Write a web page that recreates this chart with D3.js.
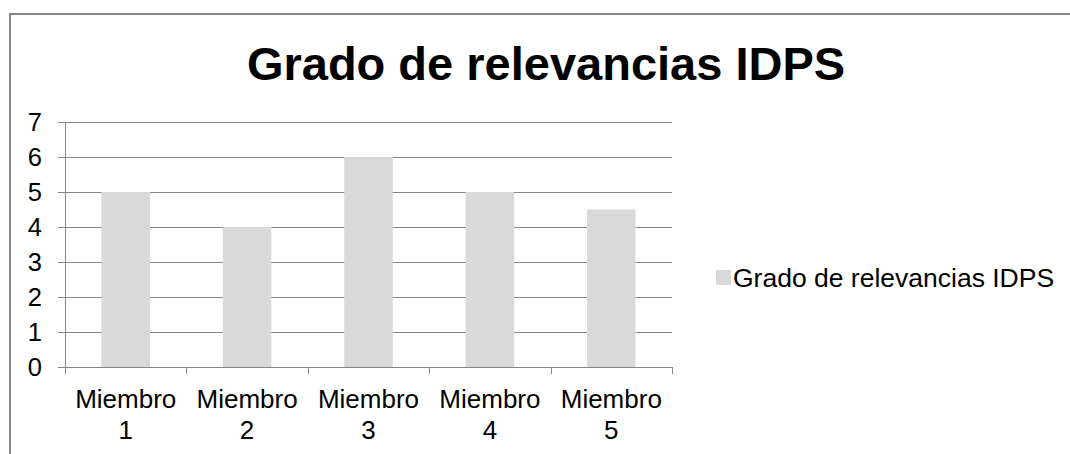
<!DOCTYPE html>
<html lang="es">
<head>
    <meta charset="UTF-8">
    <script src="https://cdn.jsdelivr.net/npm/d3@7"></script>
    <title>Grado de relevancias IDPS</title>
    <style>
        body { margin: 0; background: #fff; }
        text { font-family: Arial, "Liberation Sans", sans-serif; fill: #000; }
    </style>
</head>
<body>
</body>
<script>

    // datos
    let categories = [["Miembro", "1"], ["Miembro", "2"], ["Miembro", "3"], ["Miembro", "4"], ["Miembro", "5"]];
    let values = [5, 4, 6, 5, 4.5];
    let yTicks = [0, 1, 2, 3, 4, 5, 6, 7];
    let seriesName = "Grado de relevancias IDPS";
    let title = "Grado de relevancias IDPS";

    let width = 1070, height = 454;
    let plotLeft = 65, plotRight = 672, plotTop = 122, plotBottom = 367;
    let barColor = "#d9d9d9", lineColor = "#868686";

    let svg = d3.select("body")
        .append("svg")
        .attr("width", width)
        .attr("height", height);

    // marco del grafico
    svg.append("rect")
        .attr("x", 10)
        .attr("y", 14)
        .attr("width", 1200)
        .attr("height", 600)
        .attr("fill", "none")
        .attr("stroke", lineColor)
        .attr("stroke-width", 2);

    let x = d3.scaleBand()
        .domain(d3.range(values.length))
        .range([plotLeft, plotRight])
        .paddingInner(0.6)
        .paddingOuter(0.3);

    let y = d3.scaleLinear()
        .domain([0, 7])
        .range([plotBottom, plotTop]);

    // lineas de cuadricula
    svg.append("g")
        .selectAll("line")
        .data(yTicks)
        .join("line")
        .attr("x1", plotLeft - 7)
        .attr("x2", plotRight)
        .attr("y1", d => Math.round(y(d)) + 0.5)
        .attr("y2", d => Math.round(y(d)) + 0.5)
        .attr("stroke", lineColor)
        .attr("stroke-width", 1);

    // barras
    svg.append("g")
        .selectAll("rect")
        .data(values)
        .join("rect")
        .attr("x", (d, i) => x(i))
        .attr("width", x.bandwidth())
        .attr("y", d => y(d))
        .attr("height", d => y(0) - y(d))
        .attr("fill", barColor);

    // eje y
    svg.append("line")
        .attr("x1", plotLeft + 0.5)
        .attr("x2", plotLeft + 0.5)
        .attr("y1", Math.round(y(7)))
        .attr("y2", plotBottom + 7)
        .attr("stroke", lineColor);

    // marcas del eje x en los limites de categoria
    let bounds = d3.range(values.length + 1).map(i => plotLeft + i * x.step());
    svg.append("g")
        .selectAll("line")
        .data(bounds)
        .join("line")
        .attr("x1", d => Math.round(d) + 0.5)
        .attr("x2", d => Math.round(d) + 0.5)
        .attr("y1", Math.round(y(0)))
        .attr("y2", Math.round(y(0)) + 7)
        .attr("stroke", lineColor);

    // etiquetas del eje y
    svg.append("g")
        .selectAll("text")
        .data(yTicks)
        .join("text")
        .attr("x", 42)
        .attr("y", d => y(d))
        .attr("dy", "0.36em")
        .attr("text-anchor", "end")
        .style("font-size", "25.5px")
        .text(d => d);

    // etiquetas de categoria
    let cat = svg.append("g")
        .selectAll("text")
        .data(categories)
        .join("text")
        .attr("text-anchor", "middle")
        .style("font-size", "26px");
    cat.each(function (d, i) {
        d3.select(this).selectAll("tspan")
            .data(d)
            .join("tspan")
            .attr("x", x(i) + x.bandwidth() / 2)
            .attr("y", (t, j) => 408 + j * 31)
            .text(t => t);
    });

    // titulo
    svg.append("text")
        .attr("x", 546)
        .attr("y", 80)
        .attr("text-anchor", "middle")
        .style("font-size", "47px")
        .style("font-weight", "bold")
        .text(title);

    // leyenda
    svg.append("rect")
        .attr("x", 716)
        .attr("y", 270)
        .attr("width", 15)
        .attr("height", 15)
        .attr("fill", barColor);
    svg.append("text")
        .attr("x", 733)
        .attr("y", 287)
        .style("font-size", "26.5px")
        .text(seriesName);

</script>
</html>
